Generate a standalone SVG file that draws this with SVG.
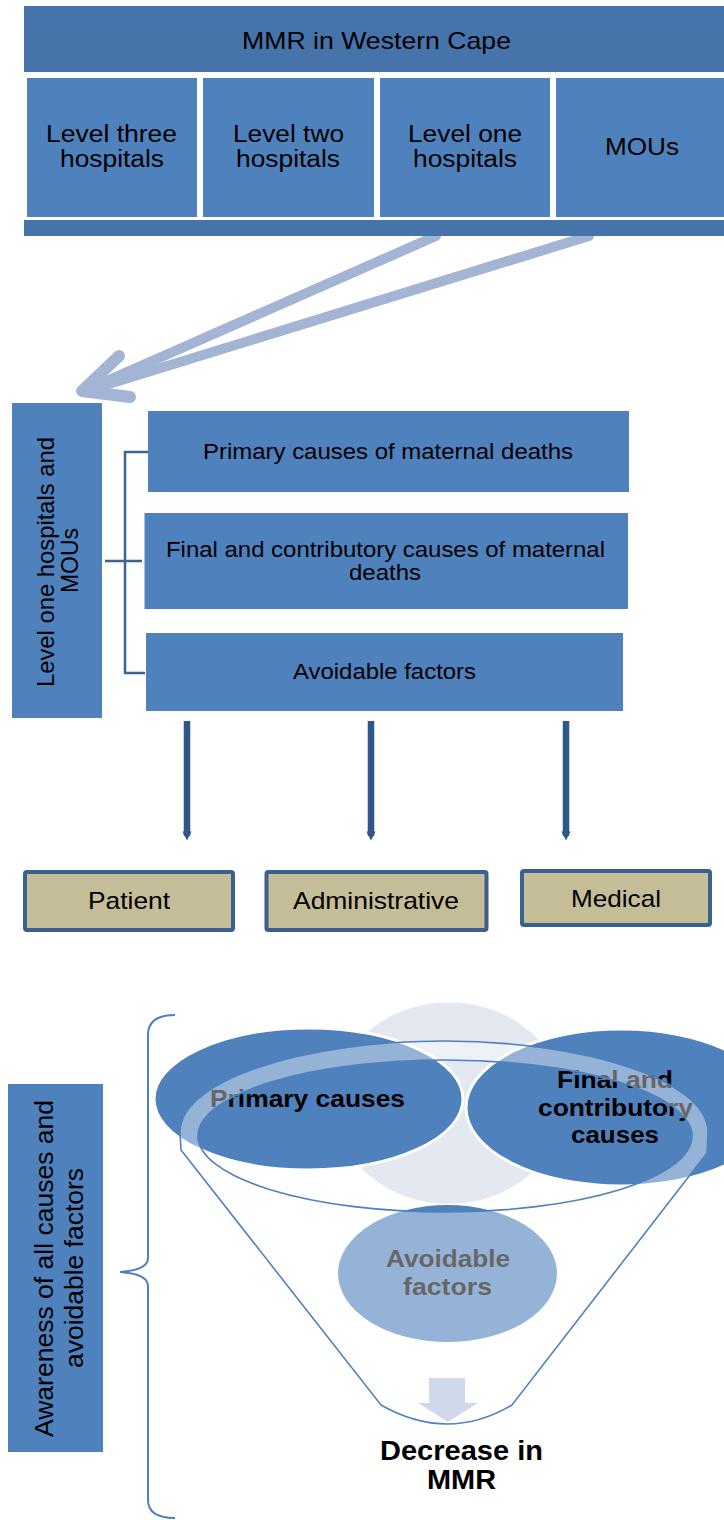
<svg xmlns="http://www.w3.org/2000/svg" width="724" height="1520" viewBox="0 0 724 1520">
<style>
.t{font-family:"Liberation Sans",Arial,sans-serif;fill:#000}
.b{font-weight:bold}
.box{fill:#4f81bd}
.bar{fill:#4674aa}
.cat{fill:#c4bd97;stroke:#3b5f8e;stroke-width:4}
.bigarrow{fill:none;stroke:#a3b4d4;stroke-linecap:round;stroke-linejoin:round}
.down{stroke:#2f5788;stroke-width:6.5}
.brk{fill:none;stroke:#3e6494;stroke-width:2.5}
.brace{fill:none;stroke:#4f81bd;stroke-width:2}
.veil{fill:#fff;fill-opacity:0.4;fill-rule:evenodd}
.rim{fill:none;stroke:#4f81bd;stroke-width:1.6}
</style>
<defs>
<marker id="dh" viewBox="0 0 10 10" refX="5" refY="5" markerWidth="2" markerHeight="1.4" orient="auto" markerUnits="strokeWidth">
<path d="M0,0 L10,5 L0,10 z" fill="#2f5788"/>
</marker>
</defs>

<g id="connectors">
<path class="bigarrow" stroke-width="10" d="M436,236 L84,391"/>
<path class="bigarrow" stroke-width="10" d="M589,236 L86,391"/>
<path class="bigarrow" stroke-width="12" d="M119,356 L82,391 L130,397"/>
<line class="down" x1="187" y1="721" x2="187" y2="836" marker-end="url(#dh)"/>
<line class="down" x1="371" y1="721" x2="371" y2="836" marker-end="url(#dh)"/>
<line class="down" x1="566" y1="721" x2="566" y2="836" marker-end="url(#dh)"/>
<path class="brk" d="M148,452 L125,452 L125,673 L145,673 M105,561 L142,561"/>
<path class="brace" d="M175,1015 Q148,1015 148,1035 L148,1258 Q148,1270 120,1272 Q148,1274 148,1286 L148,1500 Q148,1518 175,1518"/>
</g>

<g id="mmr-western-cape">
<rect class="bar" x="24" y="6" width="700" height="66"/>
<rect class="bar" x="24" y="220" width="700" height="16"/>
<text class="t" x="242" y="49" font-size="24" textLength="269" lengthAdjust="spacingAndGlyphs">MMR in Western Cape</text>
</g>
<g id="level-three">
<rect class="box" x="27" y="78" width="170" height="139"/>
<text class="t" x="46" y="142" font-size="23" textLength="131" lengthAdjust="spacingAndGlyphs">Level three</text>
<text class="t" x="60" y="167" font-size="23" textLength="104" lengthAdjust="spacingAndGlyphs">hospitals</text>
</g>
<g id="level-two">
<rect class="box" x="203" y="78" width="171" height="139"/>
<text class="t" x="233" y="142" font-size="23" textLength="111" lengthAdjust="spacingAndGlyphs">Level two</text>
<text class="t" x="236" y="167" font-size="23" textLength="104" lengthAdjust="spacingAndGlyphs">hospitals</text>
</g>
<g id="level-one">
<rect class="box" x="380" y="78" width="170" height="139"/>
<text class="t" x="408" y="142" font-size="23" textLength="114" lengthAdjust="spacingAndGlyphs">Level one</text>
<text class="t" x="413" y="167" font-size="23" textLength="104" lengthAdjust="spacingAndGlyphs">hospitals</text>
</g>
<g id="mous">
<rect class="box" x="556" y="78" width="168" height="139"/>
<text class="t" x="605" y="155" font-size="23" textLength="74" lengthAdjust="spacingAndGlyphs">MOUs</text>
</g>

<g id="level-one-and-mous">
<rect class="box" x="12" y="403" width="90" height="315"/>
<text class="t" transform="translate(54,687) rotate(-90)" font-size="24" textLength="250" lengthAdjust="spacingAndGlyphs">Level one hospitals and</text>
<text class="t" transform="translate(78,593) rotate(-90)" font-size="24" textLength="65" lengthAdjust="spacingAndGlyphs">MOUs</text>
</g>
<g id="primary-causes-box">
<rect class="box" x="148" y="411" width="481" height="81"/>
<text class="t" x="203" y="459" font-size="22" textLength="370" lengthAdjust="spacingAndGlyphs">Primary causes of maternal deaths</text>
</g>
<g id="final-causes-box">
<rect class="box" x="144.5" y="513" width="483.5" height="96"/>
<text class="t" x="166" y="557" font-size="22" textLength="439" lengthAdjust="spacingAndGlyphs">Final and contributory causes of maternal</text>
<text class="t" x="349" y="580" font-size="22" textLength="72" lengthAdjust="spacingAndGlyphs">deaths</text>
</g>
<g id="avoidable-box">
<rect class="box" x="146" y="633" width="477" height="78"/>
<text class="t" x="293" y="679" font-size="22" textLength="183" lengthAdjust="spacingAndGlyphs">Avoidable factors</text>
</g>

<g id="patient">
<rect class="cat" x="25" y="872" width="208" height="58" rx="2"/>
<text class="t" x="88" y="909" font-size="24" textLength="82" lengthAdjust="spacingAndGlyphs">Patient</text>
</g>
<g id="administrative">
<rect class="cat" x="266.5" y="872" width="220" height="58" rx="2"/>
<text class="t" x="293" y="909" font-size="24" textLength="166" lengthAdjust="spacingAndGlyphs">Administrative</text>
</g>
<g id="medical">
<rect class="cat" x="522" y="871" width="188" height="54" rx="2"/>
<text class="t" x="571" y="907" font-size="24" textLength="90" lengthAdjust="spacingAndGlyphs">Medical</text>
</g>

<g id="awareness">
<rect class="box" x="8" y="1084" width="95" height="368"/>
<text class="t" transform="translate(53,1437) rotate(-90)" font-size="25" textLength="337" lengthAdjust="spacingAndGlyphs">Awareness of all causes and</text>
<text class="t" transform="translate(83,1368) rotate(-90)" font-size="25" textLength="200" lengthAdjust="spacingAndGlyphs">avoidable factors</text>
</g>

<g id="funnel">
<ellipse cx="449" cy="1103" rx="116" ry="102" fill="#e3e8f1" stroke="#fff" stroke-width="2.5"/>
<g id="primary-causes">
<ellipse cx="308.5" cy="1099" rx="154.5" ry="71" fill="#4f81bd" stroke="#fff" stroke-width="3"/>
<text class="t b" x="210" y="1107" font-size="24" textLength="195" lengthAdjust="spacingAndGlyphs">Primary causes</text>
</g>
<g id="final-causes">
<ellipse cx="621" cy="1107.5" rx="155" ry="78.5" fill="#4f81bd" stroke="#fff" stroke-width="3"/>
<text class="t b" x="557" y="1088" font-size="24" textLength="116" lengthAdjust="spacingAndGlyphs">Final and</text>
<text class="t b" x="538" y="1115.5" font-size="24" textLength="155" lengthAdjust="spacingAndGlyphs">contributory</text>
<text class="t b" x="571" y="1143" font-size="24" textLength="88" lengthAdjust="spacingAndGlyphs">causes</text>
</g>
<g id="avoidable-factors">
<ellipse cx="447.5" cy="1273.5" rx="109.5" ry="68.5" fill="#4f81bd"/>
<text class="t b" x="386" y="1267" font-size="24" textLength="124" lengthAdjust="spacingAndGlyphs">Avoidable</text>
<text class="t b" x="403" y="1295" font-size="24" textLength="89" lengthAdjust="spacingAndGlyphs">factors</text>
</g>
<path class="veil" d="M181,1150 L180,1132 A264,91 0 0 1 708,1132 L707,1153 L512,1405 Q448,1443 381,1405 Z M198,1136 A247,76 0 0 0 692,1136 A247,76 0 0 0 198,1136 Z"/>
<path class="rim" d="M181,1150 L180,1132 A264,91 0 0 1 708,1132 L707,1153 L512,1405 Q448,1443 381,1405 Z"/>
<ellipse class="rim" cx="445" cy="1136" rx="247" ry="76"/>
<path fill="#d0d9ea" d="M429,1378 L465,1378 L465,1403 L478,1403 L448,1422 L418,1403 L429,1403 Z"/>
</g>

<g id="decrease-mmr">
<text class="t b" x="380" y="1460" font-size="27" textLength="163" lengthAdjust="spacingAndGlyphs">Decrease in</text>
<text class="t b" x="427" y="1489" font-size="27" textLength="69" lengthAdjust="spacingAndGlyphs">MMR</text>
</g>
</svg>
